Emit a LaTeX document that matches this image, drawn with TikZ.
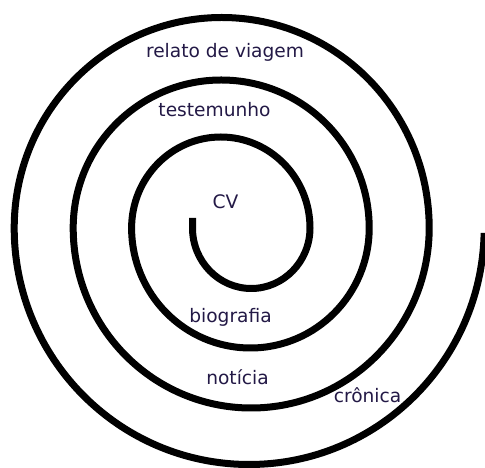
\documentclass[tikz,border=0pt]{standalone}
\usepackage{fontspec}
\setmainfont{DejaVu Sans}
\definecolor{labelink}{RGB}{35,25,70}

\begin{document}
\begin{tikzpicture}[x=1pt, y=1pt, lbl/.style={font=\fontsize{18.6}{22}\selectfont, text=labelink, inner sep=0pt, anchor=base}, coil/.style={draw=black, line width=7pt}]
\useasboundingbox (0,0) rectangle (485,468);
\draw[coil] (192.5,250) -- (192.5,240)
  arc[start angle=180, end angle=360, x radius=58.75, y radius=60.5]
  arc[start angle=0, end angle=180, x radius=89.2, y radius=91]
  arc[start angle=180, end angle=360, x radius=118.8, y radius=120]
  arc[start angle=0, end angle=180, x radius=148, y radius=148]
  arc[start angle=180, end angle=360, x radius=178, y radius=180]
  arc[start angle=0, end angle=180, x radius=207.5, y radius=210.5]
  arc[start angle=180, end angle=358.8, x radius=235, y radius=236.5];
\foreach \n/\x/\y/\t in {viagem/225/410/relato de viagem, testemunho/214.5/351/testemunho, cv/225.5/259/CV, biografia/230.5/145/biografia, noticia/237.5/83/notícia, cronica/367.5/65/crônica}
  \node[lbl] (\n) at (\x,\y) {\t};
\end{tikzpicture}
\end{document}
